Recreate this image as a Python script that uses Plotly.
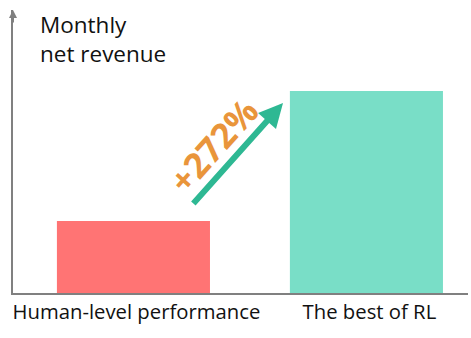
import plotly.graph_objects as go

# Monthly net revenue (arbitrary units) for the two approaches
categories = ["Human-level performance", "The best of RL"]
revenue = [72, 202]
bar_colors = ["#FF7474", "#79DEC7"]
uplift_label = "+272%"
axis_title = "Monthly<br>net revenue"

FONT = "Open Sans"
AXIS_GRAY = "#808080"

fig = go.Figure(
    go.Bar(
        x=categories,
        y=revenue,
        marker=dict(color=bar_colors, line=dict(width=0)),
        width=0.657,
        hoverinfo="skip",
    )
)

fig.update_layout(
    width=471,
    height=338,
    margin=dict(l=13, r=3, t=10, b=45),
    paper_bgcolor="white",
    plot_bgcolor="white",
    showlegend=False,
    font=dict(family=FONT, size=20, color="#111111"),
    xaxis=dict(
        range=[-0.517, 1.436],
        showline=True,
        linecolor=AXIS_GRAY,
        linewidth=2,
        showgrid=False,
        zeroline=False,
        ticks="",
        ticklabelshift=3,
        tickfont=dict(family=FONT, size=20.3, color="#111111"),
    ),
    yaxis=dict(
        range=[0, 283],
        showline=True,
        linecolor=AXIS_GRAY,
        linewidth=2,
        showgrid=False,
        zeroline=False,
        showticklabels=False,
        ticks="",
    ),
)

# Arrowhead capping the vertical axis
fig.add_annotation(
    xref="paper", yref="paper", x=0, y=1,
    ax=0, ay=14, axref="pixel", ayref="pixel",
    showarrow=True, arrowhead=2, arrowsize=0.8, arrowwidth=2,
    arrowcolor=AXIS_GRAY, text="",
)

# Axis title in the upper left corner
fig.add_annotation(
    xref="paper", yref="paper", x=0.055, y=1.01,
    xanchor="left", yanchor="top", align="left",
    text=axis_title, showarrow=False,
    font=dict(family=FONT, size=22.5, color="#111111"),
)

# Growth arrow between the bars
fig.add_annotation(
    xref="x", yref="y", x=0.642, y=190,
    ax=-91, ay=102,
    showarrow=True, arrowhead=2, arrowsize=0.8, arrowwidth=6,
    arrowcolor="#2EB893", text="",
)

# Relative uplift label along the arrow
fig.add_annotation(
    xref="x", yref="y", x=0.34, y=148,
    text=f"<b>{uplift_label}</b>", showarrow=False, textangle=-48,
    font=dict(family=FONT, size=35, color="#E9953B"),
)

fig.write_html("out.html")
